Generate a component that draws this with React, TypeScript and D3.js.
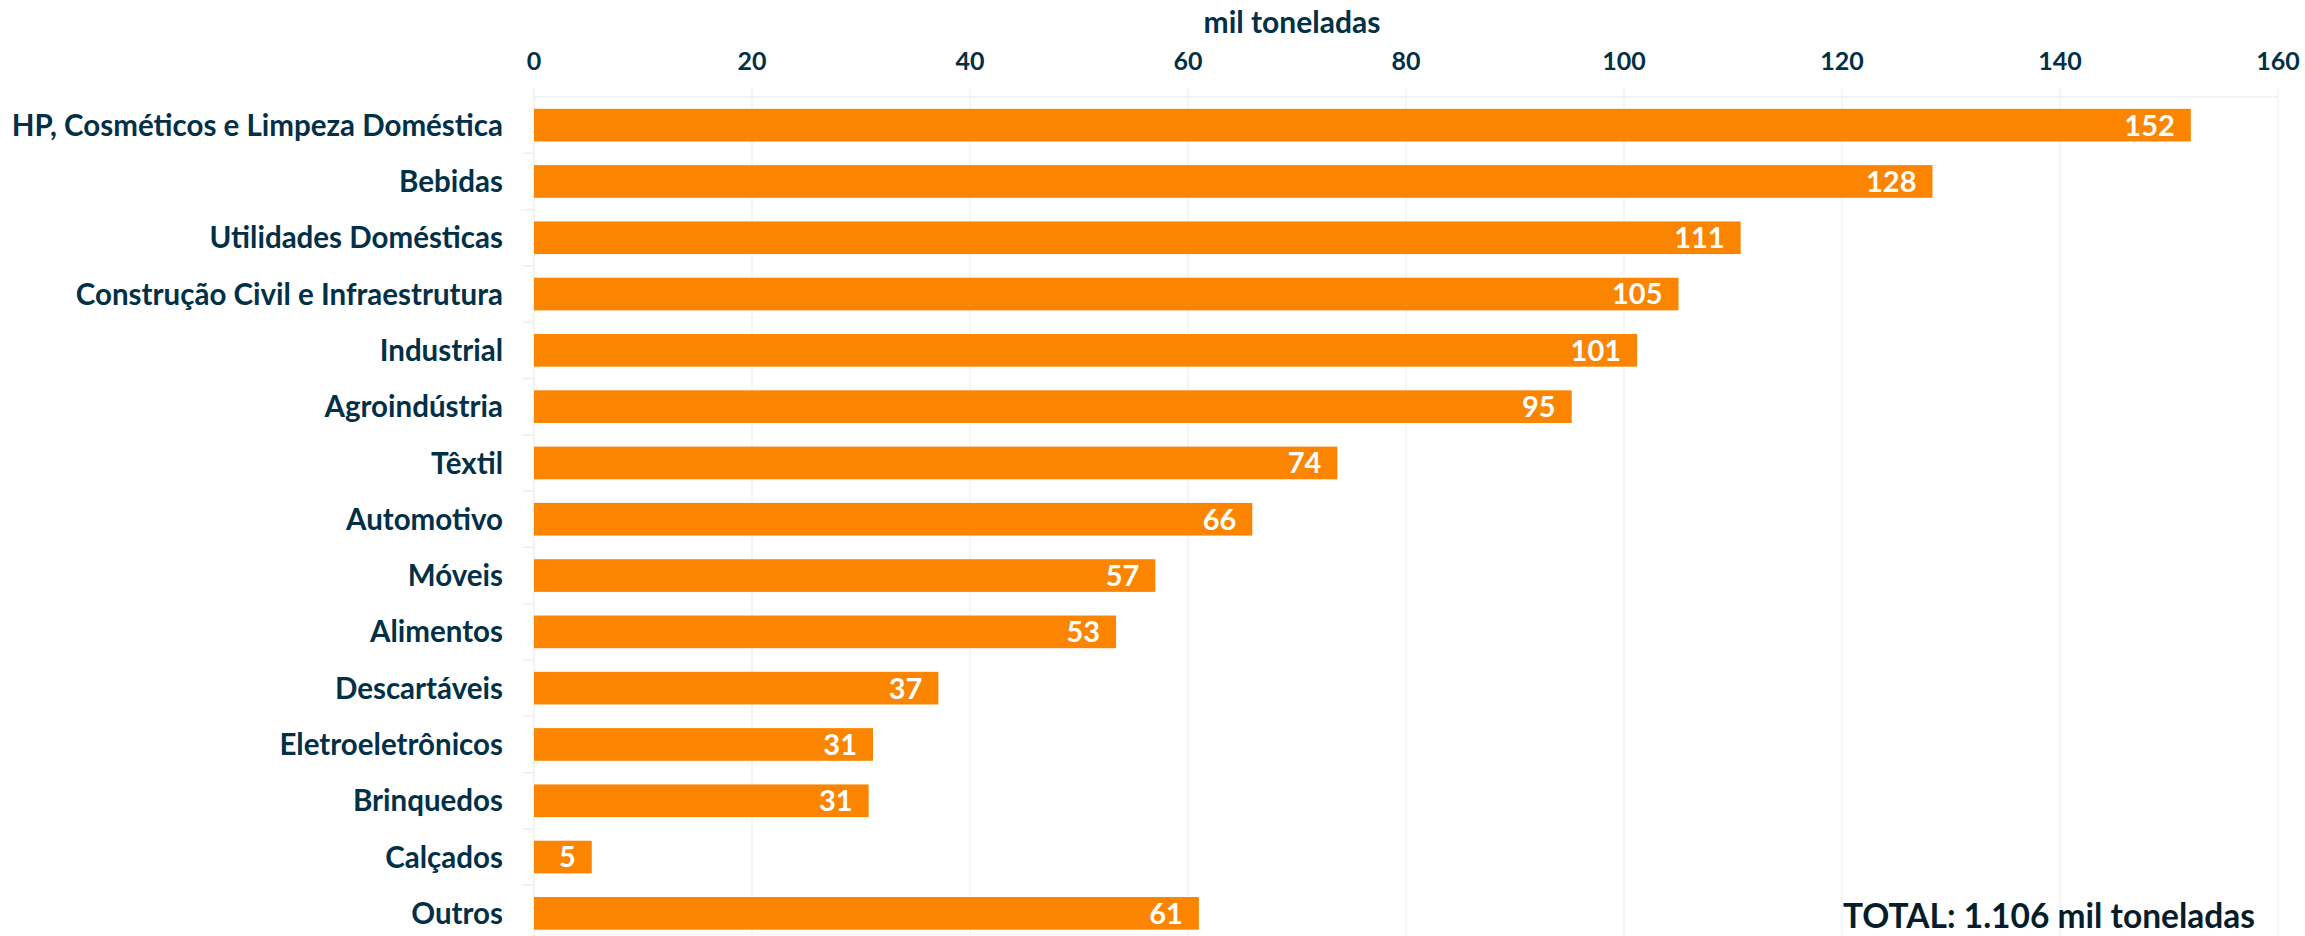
import React, { useEffect, useRef } from "react";
import * as d3 from "d3";

const categories: string[] = [
  "HP, Cosméticos e Limpeza Doméstica",
  "Bebidas",
  "Utilidades Domésticas",
  "Construção Civil e Infraestrutura",
  "Industrial",
  "Agroindústria",
  "Têxtil",
  "Automotivo",
  "Móveis",
  "Alimentos",
  "Descartáveis",
  "Eletroeletrônicos",
  "Brinquedos",
  "Calçados",
  "Outros",
];
const values: number[] = [152.0, 128.3, 110.7, 105.0, 101.2, 95.2, 73.7, 65.9, 57.0, 53.4, 37.1, 31.1, 30.7, 5.3, 61.0];
const xTicks: number[] = [0, 20, 40, 60, 80, 100, 120, 140, 160];
const axisTitle = "mil toneladas";
const totalLabel = "TOTAL: 1.106 mil toneladas";

const WIDTH = 2305;
const HEIGHT = 936;
const FONT = "Lato, 'Open Sans', sans-serif";
const TEXT = "#023047";
const BAR = "#fb8500";

const Chart: React.FC = () => {
  const svgRef = useRef<SVGSVGElement | null>(null);

  useEffect(() => {
    document.body.style.margin = "0";
    if (!svgRef.current) return;
    const svg = d3.select(svgRef.current);
    svg.selectAll("*").remove();

    const x = d3.scaleLinear().domain([0, 160]).range([534, 2278]);
    const y = d3
      .scaleBand<string>()
      .domain(categories)
      .range([97, 97 + 56.3 * categories.length])
      .paddingInner(0.42)
      .paddingOuter(0.21);

    const rows = categories.map((c, i) => ({ cat: c, value: values[i] }));

    // gridlines
    svg
      .append("g")
      .selectAll("line")
      .data(xTicks.slice(1))
      .enter()
      .append("line")
      .attr("x1", (d) => x(d))
      .attr("x2", (d) => x(d))
      .attr("y1", 88)
      .attr("y2", HEIGHT)
      .attr("stroke", "#f2f2f2")
      .attr("stroke-width", 1.5);

    // top axis line
    svg
      .append("line")
      .attr("x1", x(0))
      .attr("x2", x(160))
      .attr("y1", 97)
      .attr("y2", 97)
      .attr("stroke", "#efefef")
      .attr("stroke-width", 1.5);

    // category axis with little ticks between bands
    svg
      .append("line")
      .attr("x1", x(0))
      .attr("x2", x(0))
      .attr("y1", 88)
      .attr("y2", HEIGHT)
      .attr("stroke", "#efefef")
      .attr("stroke-width", 1.5);
    const step = y.step();
    svg
      .append("g")
      .selectAll("line")
      .data(categories.slice(1))
      .enter()
      .append("line")
      .attr("x1", x(0) - 11)
      .attr("x2", x(0))
      .attr("y1", (d) => y(d)! - (step - y.bandwidth()) / 2)
      .attr("y2", (d) => y(d)! - (step - y.bandwidth()) / 2)
      .attr("stroke", "#efefef")
      .attr("stroke-width", 1.5);

    // tick labels
    svg
      .append("g")
      .selectAll("text")
      .data(xTicks)
      .enter()
      .append("text")
      .attr("x", (d) => x(d))
      .attr("y", 70)
      .attr("text-anchor", "middle")
      .attr("font-family", FONT)
      .attr("font-weight", "bold")
      .attr("font-size", 25)
      .attr("fill", TEXT)
      .text((d) => d);

    svg
      .append("text")
      .attr("x", 1292)
      .attr("y", 33)
      .attr("text-anchor", "middle")
      .attr("font-family", FONT)
      .attr("font-weight", "bold")
      .attr("font-size", 30)
      .attr("fill", TEXT)
      .text(axisTitle);

    // bars
    svg
      .append("g")
      .selectAll("rect")
      .data(rows)
      .enter()
      .append("rect")
      .attr("x", x(0))
      .attr("y", (d) => y(d.cat)!)
      .attr("width", (d) => x(d.value) - x(0))
      .attr("height", y.bandwidth())
      .attr("fill", BAR);

    // category labels
    svg
      .append("g")
      .selectAll("text")
      .data(rows)
      .enter()
      .append("text")
      .attr("x", 503)
      .attr("y", (d) => y(d.cat)! + y.bandwidth() / 2)
      .attr("dy", "0.36em")
      .attr("text-anchor", "end")
      .attr("font-family", FONT)
      .attr("font-weight", "bold")
      .attr("font-size", 29.5)
      .attr("fill", TEXT)
      .text((d) => d.cat);

    // value labels
    svg
      .append("g")
      .selectAll("text")
      .data(rows)
      .enter()
      .append("text")
      .attr("x", (d) => x(d.value) - 16)
      .attr("y", (d) => y(d.cat)! + y.bandwidth() / 2)
      .attr("dy", "0.36em")
      .attr("text-anchor", "end")
      .attr("font-family", FONT)
      .attr("font-weight", "bold")
      .attr("font-size", 29)
      .attr("fill", "#ffffff")
      .text((d) => Math.round(d.value));

    svg
      .append("text")
      .attr("x", 2255)
      .attr("y", 928)
      .attr("text-anchor", "end")
      .attr("font-family", FONT)
      .attr("font-weight", "bold")
      .attr("font-size", 33.5)
      .attr("fill", "#071d2a")
      .text(totalLabel);
  }, []);

  return (
    <svg
      ref={svgRef}
      width={WIDTH}
      height={HEIGHT}
      style={{ display: "block", background: "#ffffff" }}
    ></svg>
  );
};

export default function App() {
  return <Chart />;
}
